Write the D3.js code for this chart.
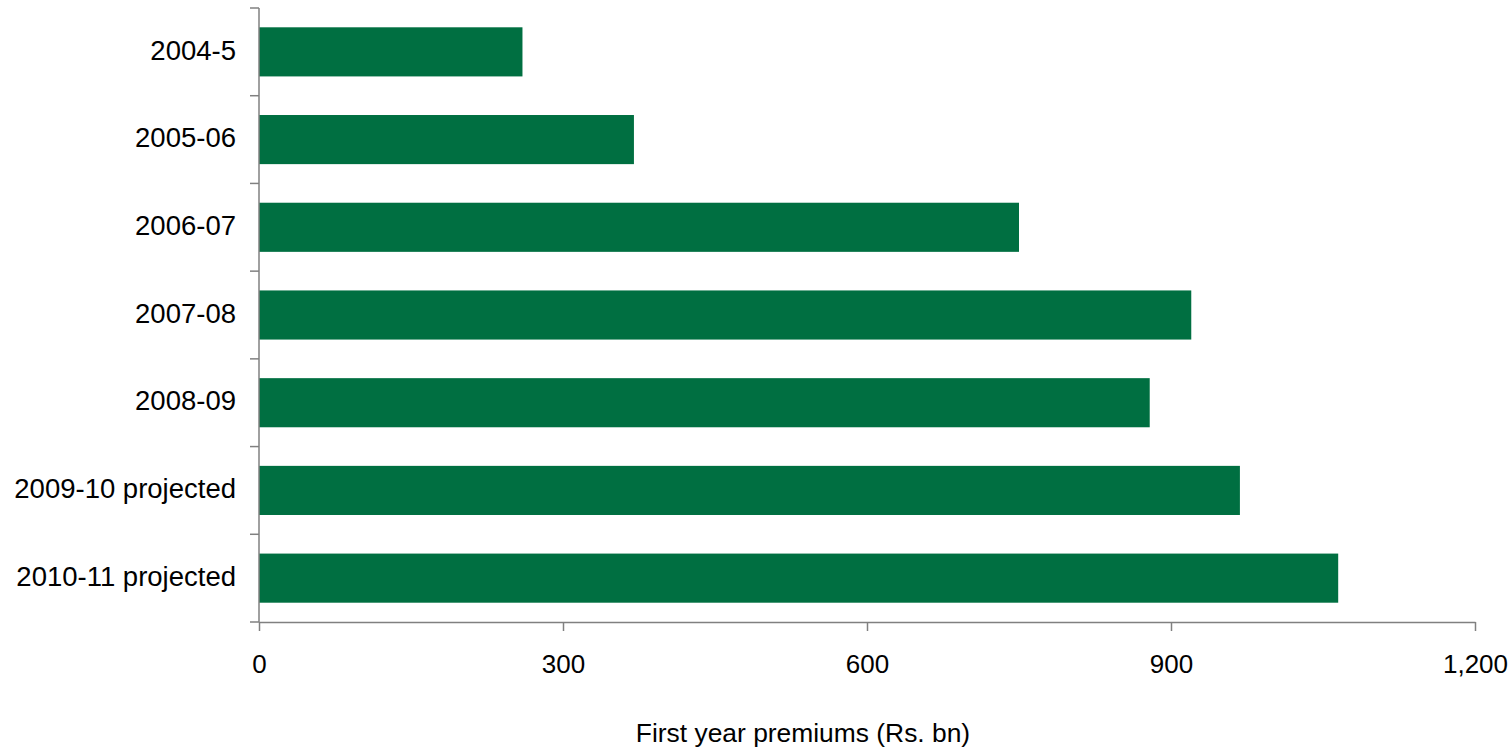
<!DOCTYPE html>
<html>
<head>
<meta charset="utf-8">
<script src="https://cdn.jsdelivr.net/npm/d3@7"></script>
<style>
  body { margin: 0; background: #fff; }
  svg text { font-family: "Liberation Sans", Arial, sans-serif; fill: #000; }
</style>
</head>
<body>
<svg id="chart" width="1510" height="750"></svg>
<script>
// chart data
var categories = ['2004-5', '2005-06', '2006-07', '2007-08', '2008-09', '2009-10 projected', '2010-11 projected'];
var premiums = [260, 370, 750, 920, 879, 968, 1065];
var xTicks = [0, 300, 600, 900, 1200];

var width = 1510, height = 750;
var margin = {top: 8, right: 35, bottom: 128, left: 259};

var svg = d3.select('#chart');
var g = svg.append('g')
    .attr('transform', 'translate(' + margin.left + ',' + margin.top + ')');

var innerW = width - margin.left - margin.right;
var innerH = height - margin.top - margin.bottom;

var xScale = d3.scaleLinear()
    .domain([0, 1200])
    .range([0, innerW]);

var yScale = d3.scaleBand()
    .domain(categories)
    .range([0, innerH])
    .paddingInner(0.44)
    .paddingOuter(0.22);

// bars
g.selectAll('rect.bar')
    .data(categories)
    .enter().append('rect')
        .attr('class', 'bar')
        .attr('x', xScale(0))
        .attr('y', function(d){ return yScale(d); })
        .attr('width', function(d, i){ return xScale(premiums[i]) - xScale(0); })
        .attr('height', yScale.bandwidth())
        .style('fill', '#006f41');

// x axis
var xAxis = d3.axisBottom(xScale)
    .tickValues(xTicks)
    .tickSize(9)
    .tickSizeOuter(0)
    .tickPadding(24)
    .tickFormat(d3.format(','));

var gx = g.append('g')
    .attr('transform', 'translate(0,' + innerH + ')')
    .call(xAxis);

// y axis: ticks between categories
var bounds = d3.range(categories.length + 1).map(function(i){ return innerH * i / categories.length; });
var gy = g.append('g');
gy.append('line')
    .attr('x1', 0).attr('x2', 0)
    .attr('y1', 0).attr('y2', innerH)
    .attr('stroke', '#808080').attr('stroke-width', 1.5);
gy.selectAll('line.tick')
    .data(bounds)
    .enter().append('line')
        .attr('class', 'tick')
        .attr('x1', -9).attr('x2', 0)
        .attr('y1', function(d){ return d; })
        .attr('y2', function(d){ return d; })
        .attr('stroke', '#808080').attr('stroke-width', 1.5);
gy.selectAll('text')
    .data(categories)
    .enter().append('text')
        .attr('x', -23)
        .attr('y', function(d){ return yScale(d) + yScale.bandwidth() / 2; })
        .attr('dy', '0.28em')
        .attr('text-anchor', 'end')
        .style('font-size', '27.5px')
        .text(function(d){ return d; });

gx.select('.domain').attr('stroke', '#808080').attr('stroke-width', 1.5);
gx.selectAll('.tick line').attr('stroke', '#808080').attr('stroke-width', 1.5);
gx.selectAll('.tick text')
    .style('font-size', '26px')
    .style('font-family', '"Liberation Sans", Arial, sans-serif')
    .attr('fill', '#000');

// axis title
svg.append('text')
    .attr('x', 803)
    .attr('y', 742)
    .attr('text-anchor', 'middle')
    .style('font-size', '26.4px')
    .text('First year premiums (Rs. bn)');
</script>
</body>
</html>
